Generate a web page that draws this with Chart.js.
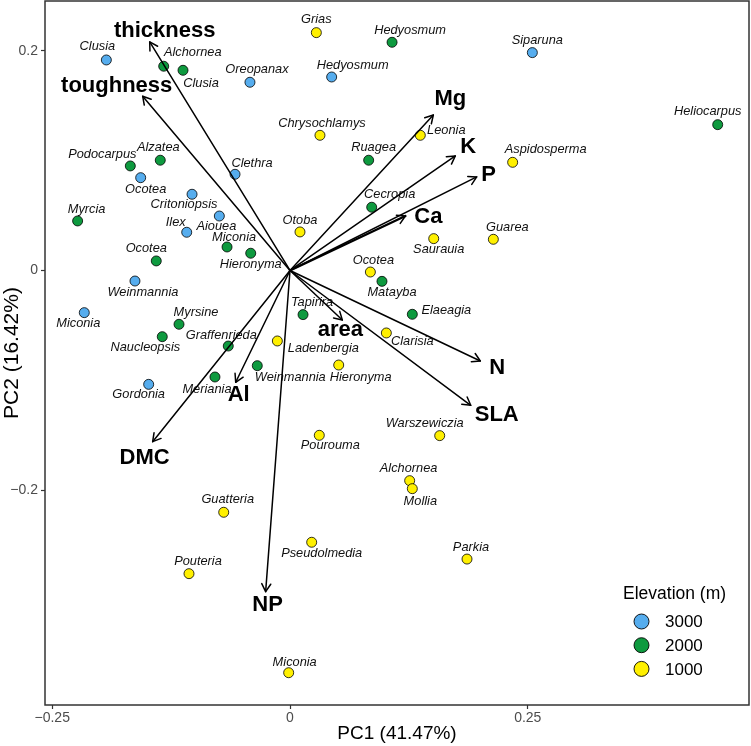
<!DOCTYPE html>
<html><head><meta charset="utf-8">
<script src="https://cdn.jsdelivr.net/npm/chart.js@4/dist/chart.umd.min.js"></script>
<style>html,body{margin:0;padding:0;background:#fff}#wrap{width:751px;height:746px}</style>
</head><body><div id="wrap"><canvas id="c" width="751" height="746"></canvas></div>
<script>
// ---------- data ----------
const speciesNames = ['Clusia','Oreopanax','Clethra','Ocotea','Critoniopsis','Aiouea','Ilex','Hedyosmum','Siparuna','Weinmannia','Miconia','Gordonia',
  'Alchornea','Clusia','Alzatea','Podocarpus','Myrcia','Miconia','Hieronyma','Ocotea','Hedyosmum','Ruagea','Cecropia','Heliocarpus','Myrsine','Naucleopsis','Graffenrieda','Weinmannia','Meriania','Tapirira','Matayba','Elaeagia',
  'Grias','Chrysochlamys','Leonia','Aspidosperma','Otoba','Saurauia','Guarea','Ocotea','Clarisia','Ladenbergia','Hieronyma','Pourouma','Warszewiczia','Alchornea','Mollia','Guatteria','Pseudolmedia','Pouteria','Miconia','Parkia'];
const pc1 = [-0.1931,-0.0421,-0.0578,-0.157,-0.103,-0.0743,-0.1086,0.0438,0.2548,-0.163,-0.2163,-0.1486,
  -0.1328,-0.1125,-0.1364,-0.1679,-0.2233,-0.0662,-0.0413,-0.1406,0.1073,0.0827,0.0859,0.4497,-0.1167,-0.1343,-0.0649,-0.0344,-0.0789,0.0137,0.0967,0.1286,
  0.0277,0.0315,0.137,0.2341,0.0105,0.1511,0.2138,0.0845,0.1013,-0.0133,0.0512,0.0308,0.1574,0.1258,0.1286,-0.0697,0.0228,-0.1062,-0.0014,0.1861];
const pc2 = [0.1917,0.1714,0.0876,0.0845,0.0694,0.0496,0.0348,0.1762,0.1984,-0.0096,-0.0384,-0.1037,
  0.186,0.1823,0.1004,0.0952,0.0451,0.0214,0.0157,0.0087,0.2078,0.1004,0.0576,0.1328,-0.049,-0.0603,-0.0688,-0.0867,-0.097,-0.0402,-0.0099,-0.0399,
  0.2166,0.1231,0.1231,0.0985,0.0351,0.029,0.0284,-0.0014,-0.0569,-0.0642,-0.0861,-0.1501,-0.1504,-0.1914,-0.1987,-0.2202,-0.2475,-0.2761,-0.3663,-0.2628];
const elevation = [3000,3000,3000,3000,3000,3000,3000,3000,3000,3000,3000,3000,
  2000,2000,2000,2000,2000,2000,2000,2000,2000,2000,2000,2000,2000,2000,2000,2000,2000,2000,2000,2000,
  1000,1000,1000,1000,1000,1000,1000,1000,1000,1000,1000,1000,1000,1000,1000,1000,1000,1000,1000,1000];
const elevationLevels = [3000, 2000, 1000];
const loadingNames = ['thickness','toughness','Mg','K','P','Ca','area','N','SLA','NP','DMC','Al'];
const loadingPC1 = [-0.1475,-0.1549,0.1507,0.1738,0.1963,0.1213,0.055,0.2001,0.19,-0.0256,-0.1444,-0.0571];
const loadingPC2 = [0.2081,0.1587,0.1416,0.1043,0.0852,0.0496,-0.0451,-0.0824,-0.1228,-0.2925,-0.1559,-0.1018];
const xTickValues = [-0.25, 0, 0.25];
const xTickLabels = ['\u22120.25', '0', '0.25'];
const yTickValues = [-0.2, 0, 0.2];
const yTickLabels = ['\u22120.2', '0', '0.2'];

// ---------- presentation ----------
const FONT = "'Liberation Sans', Arial, sans-serif";
const levelColors = {3000: '#56ADEE', 2000: '#0E9A3F', 1000: '#FFF000'};
// label nudges in px (dx, dy of label centre from point)
const labelNudge = [[-9,-14],[7,-13],[17,-11],[5,12],[-8,10],[-3,10],[-11,-10],[21,-12],[5,-12],[8,11],[-6,11],[-10,10],
  [29,-14],[18,13],[-2,-13],[-28,-11],[9,-12],[7,-10],[0,11],[-10,-12],[18,-12],[5,-13],[18,-13],[-10,-13],[17,-12],[-17,11],[-7,-11],[33,12],[-8,12],[9,-12],[10,11],[34,-4],
  [0,-13],[2,-12],[26,-5],[33,-13],[0,-11],[5,11],[14,-12],[3,-12],[26,8],[46,7],[22,12],[11,10],[-15,-12],[-1,-12],[8,13],[4,-13],[10,11],[9,-12],[6,-10],[4,-12]];
const arrowLabelNudge = [[15,-11],[-26,-10],[17,-16],[13,-9],[12,-2],[23,1],[-2,10],[17,7],[26,10],[2,13],[-8,16],[3,13]];

const datasets = elevationLevels.map(lv => ({
  label: String(lv),
  data: pc1.map((x, i) => ({x: x, y: pc2[i], idx: i})).filter(p => elevation[p.idx] === lv),
  backgroundColor: levelColors[lv],
  borderColor: '#000',
  borderWidth: 0.8,
  pointRadius: 5,
  pointHoverRadius: 5
}));

const biplotPlugin = {
  id: 'biplot',
  afterDatasetsDraw(chart) {
    const ctx = chart.ctx, xs = chart.scales.x, ys = chart.scales.y, a = chart.chartArea;
    ctx.save();
    ctx.beginPath(); ctx.rect(a.left, a.top, a.right - a.left, a.bottom - a.top); ctx.clip();
    // point labels
    ctx.fillStyle = '#111';
    ctx.font = 'italic 12.8px ' + FONT;
    ctx.textAlign = 'center'; ctx.textBaseline = 'middle';
    for (let i = 0; i < speciesNames.length; i++) {
      const px = xs.getPixelForValue(pc1[i]), py = ys.getPixelForValue(pc2[i]);
      ctx.fillText(speciesNames[i], px + labelNudge[i][0], py + labelNudge[i][1]);
    }
    // arrows
    const ox = xs.getPixelForValue(0), oy = ys.getPixelForValue(0);
    ctx.strokeStyle = '#000'; ctx.lineCap = 'round'; ctx.lineJoin = 'round';
    for (let k = 0; k < loadingNames.length; k++) {
      const tx = xs.getPixelForValue(loadingPC1[k]), ty = ys.getPixelForValue(loadingPC2[k]);
      ctx.lineWidth = loadingNames[k] === 'Ca' ? 2.4 : 1.5;
      ctx.beginPath(); ctx.moveTo(ox, oy); ctx.lineTo(tx, ty); ctx.stroke();
      const ang = Math.atan2(ty - oy, tx - ox), L = 9, w = Math.PI / 6;
      ctx.lineWidth = 1.5;
      ctx.beginPath();
      ctx.moveTo(tx - L * Math.cos(ang - w), ty - L * Math.sin(ang - w));
      ctx.lineTo(tx, ty);
      ctx.lineTo(tx - L * Math.cos(ang + w), ty - L * Math.sin(ang + w));
      ctx.stroke();
    }
    ctx.fillStyle = '#000';
    ctx.font = 'bold 22px ' + FONT;
    for (let k = 0; k < loadingNames.length; k++) {
      const tx = xs.getPixelForValue(loadingPC1[k]), ty = ys.getPixelForValue(loadingPC2[k]);
      ctx.fillText(loadingNames[k], tx + arrowLabelNudge[k][0], ty + arrowLabelNudge[k][1]);
    }
    ctx.restore();
    // panel border
    ctx.save();
    ctx.strokeStyle = '#333'; ctx.lineWidth = 1.5;
    ctx.strokeRect(a.left, a.top, a.right - a.left, a.bottom - a.top);
    // legend
    const lx = a.right - 126, ly = a.bottom - 111;
    ctx.fillStyle = '#000'; ctx.textAlign = 'left'; ctx.textBaseline = 'middle';
    ctx.font = '17.5px ' + FONT;
    ctx.fillText('Elevation (m)', lx, ly);
    ctx.font = '17px ' + FONT;
    elevationLevels.forEach((lv, j) => {
      const cy = ly + 27.5 + j * 23.7;
      ctx.beginPath(); ctx.arc(lx + 18.5, cy, 7.5, 0, Math.PI * 2);
      ctx.fillStyle = levelColors[lv]; ctx.fill();
      ctx.lineWidth = 0.9; ctx.strokeStyle = '#000'; ctx.stroke();
      ctx.fillStyle = '#000';
      ctx.fillText(String(lv), lx + 42, cy + 1);
    });
    ctx.restore();
  }
};

function zeroPad(s) { s.paddingTop = 0; s.paddingBottom = 0; s.paddingLeft = 0; s.paddingRight = 0; }

new Chart(document.getElementById('c'), {
  type: 'scatter',
  data: {datasets},
  options: {
    responsive: false,
    animation: false,
    devicePixelRatio: 1,
    layout: {autoPadding: false, padding: {top: 1, right: 2, left: 0, bottom: 0}},
    plugins: {legend: {display: false}, tooltip: {enabled: false}},
    scales: {
      x: {
        type: 'linear', min: -0.2576, max: 0.4826,
        afterFit(s) { s.height = 41; zeroPad(s); },
        afterBuildTicks(s) { s.ticks = xTickValues.map(v => ({value: v})); },
        border: {display: false},
        grid: {drawOnChartArea: false, drawTicks: true, tickLength: 4, tickColor: '#333', tickWidth: 1.2},
        ticks: {callback: (v, i) => xTickLabels[i], font: {family: FONT, size: 14, lineHeight: 1}, color: '#4D4D4D', padding: 2, maxRotation: 0, autoSkip: false},
        title: {display: true, text: 'PC1 (41.47%)', font: {family: FONT, size: 19, lineHeight: 1}, color: '#000', padding: {top: 0, bottom: 2.5}}
      },
      y: {
        type: 'linear', min: -0.3957, max: 0.2454,
        afterFit(s) { s.width = 45; zeroPad(s); },
        afterBuildTicks(s) { s.ticks = yTickValues.map(v => ({value: v})); },
        border: {display: false},
        grid: {drawOnChartArea: false, drawTicks: true, tickLength: 4, tickColor: '#333', tickWidth: 1.2},
        ticks: {callback: (v, i) => yTickLabels[i], font: {family: FONT, size: 14, lineHeight: 1}, color: '#4D4D4D', padding: 3, autoSkip: false},
        title: {display: true, text: 'PC2 (16.42%)', font: {family: FONT, size: 21, lineHeight: 1}, color: '#000', padding: {top: 2, bottom: 0}}
      }
    }
  },
  plugins: [biplotPlugin]
});
</script>
</body></html>
